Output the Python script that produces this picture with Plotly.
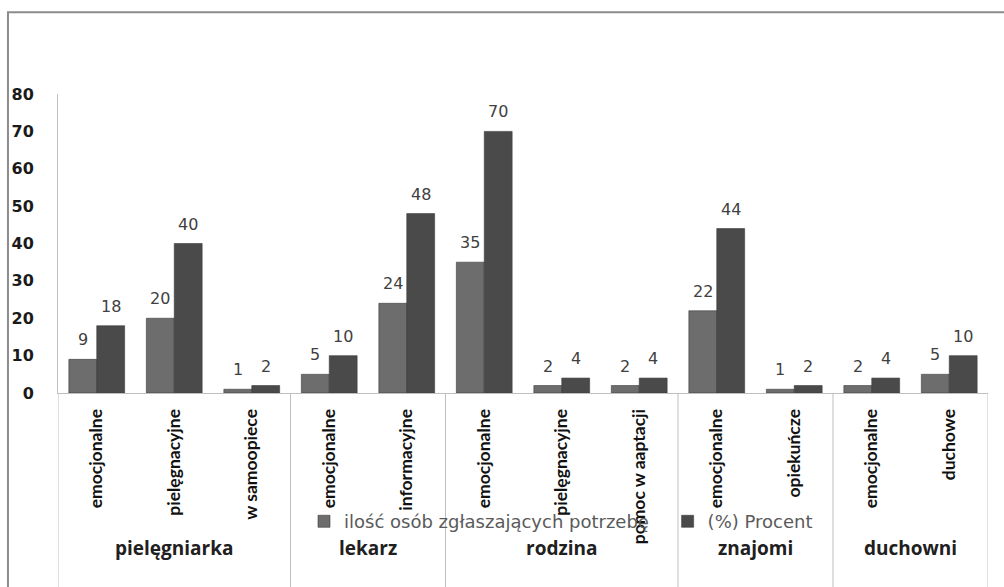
import plotly.graph_objects as go

# Support needs reported, grouped by who provides the support
groups = ["pielęgniarka", "lekarz", "rodzina", "znajomi", "duchowni"]
group_sizes = [3, 2, 3, 2, 2]
needs = [
    "emocjonalne", "pielęgnacyjne", "w samoopiece",
    "emocjonalne", "informacyjne",
    "emocjonalne", "pielęgnacyjne", "pomoc w aaptacji",
    "emocjonalne", "opiekuńcze",
    "emocjonalne", "duchowe",
]
count_people = [9, 20, 1, 5, 24, 35, 2, 2, 22, 1, 2, 5]
percent = [18, 40, 2, 10, 48, 70, 4, 4, 44, 2, 4, 10]
y_ticks = [0, 10, 20, 30, 40, 50, 60, 70, 80]

series_names = ["ilość osób zgłaszających potrzebę", "(%) Procent"]
series_colors = ["#6d6d6d", "#4a4a4a"]
legend_ids = ["legend", "legend2"]
legend_x = [0.2645, 0.6555]

BARGAP = 0.28
xs = list(range(len(needs)))

fig = go.Figure()
for name, vals, col, lg in zip(series_names, [count_people, percent], series_colors, legend_ids):
    fig.add_trace(go.Bar(
        x=xs, y=vals, name=name, legend=lg,
        marker=dict(color=col, line=dict(color="#3a3a3a", width=0.6)),
    ))

# value labels above each bar
half = (1 - BARGAP) / 4
annotations = []
for s, vals in enumerate([count_people, percent]):
    off = -half if s == 0 else half
    for i, v in enumerate(vals):
        annotations.append(dict(
            x=i + off, y=v, xref="x", yref="y", text=str(v), showarrow=False,
            yanchor="bottom", yshift=8,
            font=dict(family="DejaVu Sans", size=16, color="#404040"),
        ))

# group labels and separators under the category labels
shapes = []
start = 0
bounds = [-0.5]
for g, n in zip(groups, group_sizes):
    center = start + (n - 1) / 2
    annotations.append(dict(
        x=center, y=-0.517, xref="x", yref="paper", text="<b>" + g + "</b>",
        showarrow=False, yanchor="middle",
        font=dict(family="Open Sans", size=19, color="#202020"),
    ))
    start += n
    bounds.append(start - 0.5)
for b in bounds:
    shapes.append(dict(type="line", xref="x", yref="paper", x0=b, x1=b,
                       y0=0, y1=-0.66, line=dict(color="#bfbfbf", width=1)))

# outer frame (top and left edges)
shapes.append(dict(type="path", xref="paper", yref="paper",
                   path="M -0.0538,-0.68 L -0.0538,1.2733 L 1.03,1.2733",
                   line=dict(color="#8c8c8c", width=2)))

legend_style = dict(
    orientation="h", y=-0.43, xanchor="left", yanchor="middle",
    font=dict(family="DejaVu Sans", size=18, color="#5a5a5a"),
    bgcolor="rgba(0,0,0,0)", itemclick=False, itemdoubleclick=False,
)

fig.update_layout(
    width=1004, height=587,
    margin=dict(l=58, r=16, t=94, b=194),
    paper_bgcolor="white", plot_bgcolor="white",
    barmode="group", bargap=BARGAP, bargroupgap=0,
    showlegend=True,
    legend=dict(x=legend_x[0], **legend_style),
    legend2=dict(x=legend_x[1], **legend_style),
    xaxis=dict(
        tickmode="array", tickvals=xs, ticktext=needs, tickangle=-90,
        range=[-0.5, len(needs) - 0.5],
        showline=True, linecolor="#bfbfbf", linewidth=1,
        ticks="", showgrid=False, zeroline=False,
        ticklabelstandoff=8,
        tickfont=dict(family="Lato", size=17.5, color="#111111", weight="bold"),
    ),
    yaxis=dict(
        range=[0, 80], tickmode="array", tickvals=y_ticks,
        showline=True, linecolor="#bfbfbf", linewidth=1,
        ticks="", showgrid=False, zeroline=False,
        ticklabelstandoff=20,
        tickfont=dict(family="DejaVu Sans", size=16, color="#1a1a1a", weight="bold"),
    ),
    annotations=annotations,
    shapes=shapes,
)

fig.write_html("out.html")
